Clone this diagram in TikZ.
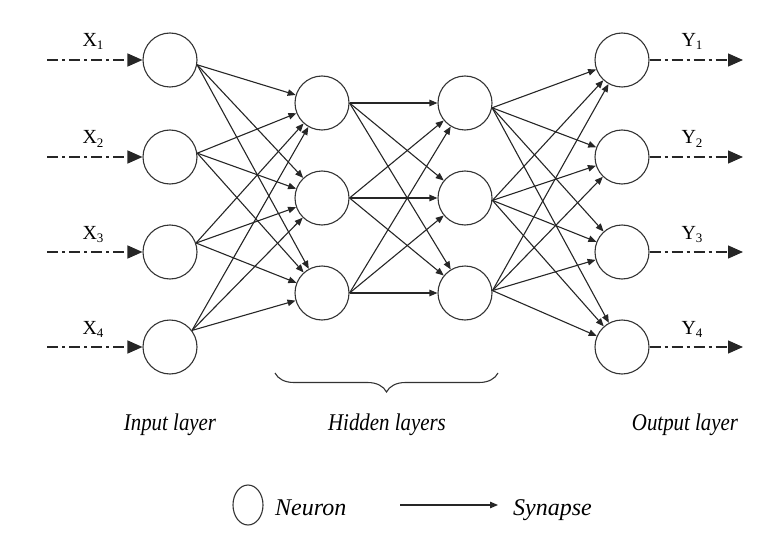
\documentclass[tikz,border=0pt]{standalone}
\usepackage{fontspec}
\setmainfont{Liberation Serif}
\newfontfamily\condfont[FakeStretch=0.87]{Liberation Serif}
\usetikzlibrary{arrows.meta,decorations.pathreplacing,shapes.geometric}
\begin{document}
\begin{tikzpicture}[x=1pt,y=-1pt,
  neuron/.style={circle,draw=black!80,line width=1.1pt,minimum size=54pt,inner sep=0pt},
  syn/.style={draw=black!85,line width=1.1pt,-{Triangle[length=8pt,width=6.5pt]}},
  io/.style={draw=black!85,line width=1.3pt,dash pattern=on 11pt off 4pt on 3pt off 4pt,-{Triangle[length=15pt,width=13pt]}},
  sig/.style={font=\fontsize{20}{22}\selectfont,inner sep=0pt,anchor=base},
  lay/.style={font=\condfont\itshape\fontsize{24}{26}\selectfont,inner sep=0pt,anchor=base},
  leg/.style={font=\itshape\fontsize{24}{26}\selectfont,inner sep=0pt,anchor=base west}]
\useasboundingbox (0,0) rectangle (783,540);

% neurons
\foreach \k/\y in {1/60,2/157,3/252,4/347}{
  \node[neuron] (i\k) at (170,\y) {};
  \node[neuron] (o\k) at (622,\y) {};
}
\foreach \k/\y in {1/103,2/198,3/293}{
  \node[neuron] (h\k) at (322,\y) {};
  \node[neuron] (g\k) at (465,\y) {};
}

% input / output signals
\foreach \k/\y in {1/60,2/157,3/252,4/347}{
  \coordinate (s\k) at (47,\y);
  \coordinate (t\k) at (743,\y);
  \draw[io] (s\k) -- (i\k);
  \draw[io] (o\k) -- (t\k);
  \node[sig] (xl\k) at (93,\y-13) {X\raisebox{-3pt}{\fontsize{13}{14}\selectfont\k}};
  \node[sig] (yl\k) at (692,\y-13) {Y\raisebox{-3pt}{\fontsize{13}{14}\selectfont\k}};
}

% synapses
\foreach \i/\a in {1/-10,2/8,3/19,4/37}{
  \foreach \j in {1,2,3}{
    \draw[syn] (i\i.\a) -- (h\j);
  }
}
\foreach \i/\a in {1/0,2/0,3/0}{
  \foreach \j in {1,2,3}{
    \draw[syn] (h\i.\a) -- (g\j);
  }
}
\foreach \i/\a in {1/-10,2/-5,3/5}{
  \foreach \j in {1,2,3,4}{
    \draw[syn] (g\i.\a) -- (o\j);
  }
}

% brace
\coordinate (bl) at (275,373);
\coordinate (br) at (498,373);
\draw[draw=black!80,line width=1.1pt,decorate,decoration={brace,mirror,amplitude=19pt}] (bl) -- (br);

% layer labels
\node[lay] (lin) at (170,430) {Input layer};
\node[lay] (lhid) at (387,430) {Hidden layers};
\node[lay] (lout) at (685,430) {Output layer};

% legend
\node[ellipse,draw=black!80,line width=1.1pt,minimum width=30pt,minimum height=40pt,inner sep=0pt] (legn) at (248,505) {};
\node[leg] (legnt) at (275,515) {Neuron};
\coordinate (la) at (400,505);
\coordinate (lb) at (498,505);
\draw[syn] (la) -- (lb);
\node[leg] (legst) at (513,515) {Synapse};
\end{tikzpicture}
\end{document}
